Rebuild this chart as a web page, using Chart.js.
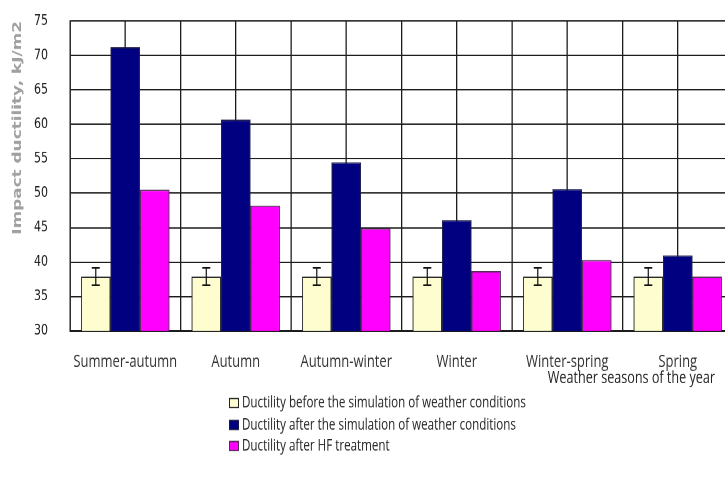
<!DOCTYPE html>
<html>
<head>
<meta charset="utf-8">
<script src="https://cdn.jsdelivr.net/npm/chart.js@4"></script>
<style>
  html, body { margin: 0; padding: 0; background: #fff; overflow: hidden; }
  #wrap { position: absolute; left: 0; top: 0; width: 740px; height: 358px; transform: scaleY(1.349); transform-origin: 0 0; }
</style>
</head>
<body>
<div id="wrap"><canvas id="c"></canvas></div>
<script>
const categories = ['Summer-autumn', 'Autumn', 'Autumn-winter', 'Winter', 'Winter-spring', 'Spring'];
const seriesNames = [
  'Ductility before the simulation of weather conditions',
  'Ductility after the simulation of weather conditions',
  'Ductility after HF treatment'
];
const beforeSim = [37.9, 37.9, 37.9, 37.9, 37.9, 37.9];
const beforeSimErr = [1.25, 1.25, 1.25, 1.25, 1.25, 1.25];
const afterSim = [71.2, 60.7, 54.5, 46.1, 50.6, 41.0];
const afterHF = [50.5, 48.2, 44.9, 38.7, 40.3, 37.9];
const yTicks = [30, 35, 40, 45, 50, 55, 60, 65, 70, 75];
const yTitle = 'Impact ductility, kJ/m2';
const xTitle = 'Weather seasons of the year';

const colors = ['#fdfdcf', '#000080', '#ff00ff'];
const borders = ['#2a2a2a', '#1a1a4a', '#5a2a5a'];
const S = 1.349;
const gridColor = '#1c1c1c';

const errorBars = {
  id: 'errorBars',
  afterDatasetsDraw(chart) {
    const meta = chart.getDatasetMeta(0);
    const y = chart.scales.y;
    const ctx = chart.ctx;
    ctx.save();
    ctx.strokeStyle = '#111';
    ctx.lineWidth = 1.2;
    meta.data.forEach((bar, i) => {
      const v = beforeSim[i], e = beforeSimErr[i];
      const yt = y.getPixelForValue(v + e), yb = y.getPixelForValue(v - e);
      ctx.beginPath();
      ctx.moveTo(bar.x, yt); ctx.lineTo(bar.x, yb);
      ctx.moveTo(bar.x - 4, yt); ctx.lineTo(bar.x + 4, yt);
      ctx.moveTo(bar.x - 4, yb); ctx.lineTo(bar.x + 4, yb);
      ctx.stroke();
    });
    ctx.restore();
  }
};

const extraText = {
  id: 'extraText',
  afterDraw(chart) {
    const ctx = chart.ctx;
    ctx.save();
    ctx.fillStyle = '#222';
    ctx.textBaseline = 'middle';
    ctx.font = '12.6px "Open Sans"';
    ctx.textAlign = 'right';
    ctx.fillText(xTitle, 715, 378.5 / S);
    ctx.textAlign = 'left';
    ctx.font = '11.6px "Open Sans"';
    const rows = [403, 425, 446];
    seriesNames.forEach((name, i) => {
      const cy = rows[i] / S;
      const bh = 9 / S;
      ctx.fillStyle = colors[i];
      ctx.fillRect(229.5, cy - bh / 2, 9, bh);
      ctx.strokeStyle = i === 0 ? '#222' : borders[i];
      ctx.lineWidth = 1;
      ctx.strokeRect(229.5, cy - bh / 2, 9, bh);
      ctx.fillStyle = '#222';
      ctx.fillText(name, 242, cy);
    });
    ctx.restore();
  }
};

new Chart(document.getElementById('c'), {
  type: 'bar',
  data: {
    labels: categories,
    datasets: [
      { label: seriesNames[0], data: beforeSim, backgroundColor: colors[0], borderColor: borders[0], borderWidth: 1 },
      { label: seriesNames[1], data: afterSim, backgroundColor: colors[1], borderColor: borders[1], borderWidth: 1 },
      { label: seriesNames[2], data: afterHF, backgroundColor: colors[2], borderColor: borders[2], borderWidth: 1 }
    ]
  },
  options: {
    responsive: true,
    maintainAspectRatio: false,
    animation: false,
    devicePixelRatio: 2,
    layout: { padding: { left: 0, top: 21 / S, right: 7, bottom: 0 } },
    datasets: { bar: { categoryPercentage: 0.8, barPercentage: 1.0 } },
    plugins: { legend: { display: false }, tooltip: { enabled: false } },
    scales: {
      x: {
        type: 'category',
        offset: true,
        grid: { offset: true, color: gridColor, lineWidth: 1.3, drawTicks: false },
        border: { display: true, color: gridColor, width: 1.3 },
        ticks: { color: '#333', font: { family: 'Open Sans', size: 13 }, padding: 15, maxRotation: 0, autoSkip: false },
        afterFit: s => { s.height = 358 - 331 / S; }
      },
      x2: {
        type: 'category',
        labels: categories,
        position: 'bottom',
        offset: true,
        grid: { offset: false, color: gridColor, lineWidth: 1.3, drawTicks: false },
        border: { display: false },
        ticks: { display: false },
        afterFit: s => { s.height = 0; }
      },
      y: {
        min: 30,
        max: 75,
        afterBuildTicks: s => { s.ticks = yTicks.map(v => ({ value: v })); },
        grid: { color: gridColor, lineWidth: 1, drawTicks: false },
        border: { display: true, color: gridColor, width: 1.3 },
        ticks: { color: '#1a1a1a', font: { family: 'DejaVu Sans', size: 11 }, padding: 22 },
        title: { display: true, text: yTitle, align: 'end', color: '#a0a0a0', font: { family: 'DejaVu Sans', size: 12.5, weight: 'bold' }, padding: { top: 10, bottom: 0 } },
        afterFit: s => { s.width = 70; s.paddingTop = 6; s.paddingBottom = 6; }
      }
    }
  },
  plugins: [errorBars, extraText]
});
</script>
</body>
</html>
